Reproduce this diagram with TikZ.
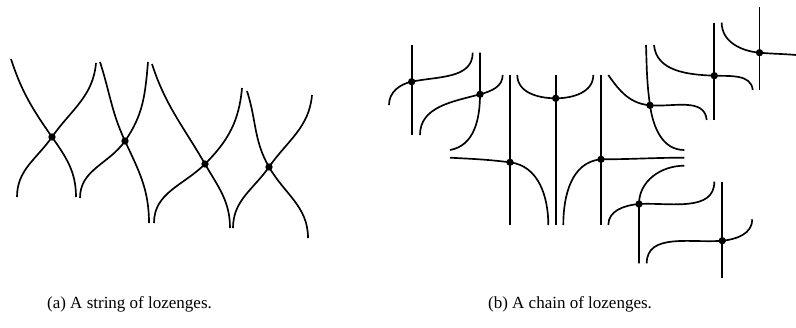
\documentclass[tikz,border=0pt]{standalone}
\usepackage{fontspec}
\setmainfont{Liberation Serif}
\usetikzlibrary{positioning}
\tikzset{
  strand/.style={line width=1pt},
  cross/.style={circle, fill, inner sep=0pt, minimum size=4.4pt},
  subcap/.style={font=\rmfamily\fontsize{10.2}{12}\selectfont, anchor=base},
}
\begin{document}
\begin{tikzpicture}[x=0.6pt, y=0.6pt]
  \useasboundingbox (0,0) rectangle (796,-327);
  % (a) string: dot, top-left, bottom-right, top-right, bottom-left, slopes
  \foreach \i/\px/\py/\tlx/\tly/\brx/\bry/\trx/\try/\blx/\bly/\sa/\sb in {
      1/52/137/11/59/76/197/96/63/17/197/-55/-125,
      2/125/141/100/62/149/223/148/62/80/198/-65/-125,
      3/205/164/152/64/230/228/242/88/154/223/-60/-135,
      4/269/167/247/91/308/238/312/95/233/228/-60/-125}{
    \node[cross] (a\i) at (\px,-\py) {};
    \coordinate (a\i tl) at (\tlx,-\tly);
    \coordinate (a\i br) at (\brx,-\bry);
    \coordinate (a\i tr) at (\trx,-\try);
    \coordinate (a\i bl) at (\blx,-\bly);
    \pgfmathsetmacro{\ia}{\sa+180}
    \pgfmathsetmacro{\ib}{\sb+180}
    \draw[strand] (a\i tl) to[out=-72, in=\ia] (a\i.center) to[out=\sa, in=90] (a\i br);
    \draw[strand] (a\i tr) to[out=-95, in=\ib] (a\i.center) to[out=\sb, in=90] (a\i bl);}
  % (b) chain: dots
  \foreach \i/\px/\py in {1/411.7/81.7, 2/480/94.3, 3/510/162.3, 4/555.7/98.3,
      5/601/159.3, 6/650/105.3, 7/714.3/75.7, 8/759.5/52.7, 9/639/204,
      10/722.3/240.7}{
    \node[cross] (b\i) at (\px,-\py) {};}
  % straight strands
  \foreach \i/\px/\ta/\tb in {1/411.7/45/135, 3/510/75/225, 4/555.7/75/225,
      5/601/75/225, 7/714.3/22.7/120, 8/759.5/7.3/90, 10/722.3/181.7/278.3}{
    \coordinate (v\i t) at (\px,-\ta);
    \coordinate (v\i b) at (\px,-\tb);
    \draw[strand] (v\i t) -- (v\i b);}
  % bent strands
  \coordinate (c1s) at (389,-105);    \coordinate (c1e) at (472.7,-52.7);
  \coordinate (s2s) at (480,-52.7);   \coordinate (s2e) at (450,-150);
  \coordinate (c2s) at (420,-135);    \coordinate (c2e) at (502.7,-75);
  \coordinate (c3s) at (450,-157.7);  \coordinate (c3e) at (548.3,-225);
  \coordinate (c4s) at (517.3,-75);   \coordinate (c4e) at (593.3,-75);
  \coordinate (c5s) at (563.3,-225);  \coordinate (c5e) at (684.3,-157.7);
  \coordinate (c6s) at (608.3,-75);   \coordinate (c6e) at (706.7,-120);
  \coordinate (s6s) at (646,-45);     \coordinate (s6e) at (684.3,-150);
  \coordinate (c7s) at (654,-45);     \coordinate (c7e) at (752.7,-90);
  \coordinate (c8s) at (721.7,-22.7); \coordinate (c8e) at (796,-55);
  \coordinate (s9s) at (684.3,-165.7);\coordinate (s9e) at (639,-263.3);
  \coordinate (c9s) at (608.3,-225);  \coordinate (c9e) at (714.3,-181.7);
  \coordinate (c10s) at (646.7,-263.3);\coordinate (c10e) at (752.3,-219.3);
  \draw[strand] (c1s) to[out=90, in=192] (b1.center) to[out=12, in=-90] (c1e);
  \draw[strand] (s2s) -- (b2.center) to[out=-90, in=10] (s2e);
  \draw[strand] (c2s) to[out=90, in=195] (b2.center) to[out=15, in=-90] (c2e);
  \draw[strand] (c3s) to[out=-3, in=173] (b3.center) to[out=-7, in=90] (c3e);
  \draw[strand] (c4s) to[out=-90, in=180] (b4.center) to[out=0, in=-90] (c4e);
  \draw[strand] (c5s) to[out=90, in=185] (b5.center) to[out=0, in=180] (c5e);
  \draw[strand] (c6s) to[out=-55, in=175] (b6.center) to[out=-5, in=95] (c6e);
  \draw[strand] (s6s) to[out=-88, in=98] (b6.center) to[out=-82, in=180] (s6e);
  \draw[strand] (c7s) to[out=-85, in=178] (b7.center) to[out=-2, in=95] (c7e);
  \draw[strand] (c8s) to[out=-90, in=175] (b8.center) to[out=-5, in=175] (c8e);
  \draw[strand] (s9s) to[out=180, in=90] (b9.center) -- (s9e);
  \draw[strand] (c9s) to[out=90, in=185] (b9.center) to[out=3, in=-90] (c9e);
  \draw[strand] (c10s) to[out=90, in=185] (b10.center) to[out=5, in=-90] (c10e);
  % captions
  \node[subcap] (capa) at (129.5,-308) {(a) A string of lozenges.};
  \node[subcap] (capb) at (570,-308) {(b) A chain of lozenges.};
\end{tikzpicture}
\end{document}
